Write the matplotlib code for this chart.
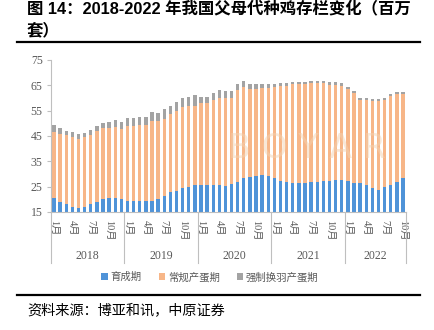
import matplotlib
matplotlib.use("Agg")
import matplotlib.pyplot as plt
import matplotlib.transforms as mtransforms
import numpy as np

plt.rcParams["font.family"] = ["Liberation Serif", "Noto Sans CJK SC"]

years = ["2018", "2019", "2020", "2021", "2022"]
months_per_year = [12, 12, 12, 12, 10]
month_ticks = [1, 4, 7, 10]

# 百万套; the axis is cut at 15, so 育成期 bars start from 0 below the frame
rearing = [
    20.4, 19.1, 18.0, 17.1, 16.7, 17.1, 18.2, 19.1, 20.0, 20.4, 20.7, 20.0,
    19.5, 19.5, 19.3, 19.2, 19.5, 20.3, 21.2, 22.8, 23.4, 24.4, 25.0, 25.8,
    25.7, 25.7, 25.6, 25.6, 25.4, 26.2, 26.8, 28.3, 28.8, 29.4, 29.6, 29.4,
    28.3, 27.4, 27.0, 26.5, 26.3, 26.3, 26.7, 27.0, 27.2, 27.2, 27.6, 27.6,
    27.2, 26.3, 26.3, 25.7, 24.6, 23.7, 24.7, 25.7, 27.0, 28.3,
]
laying = [
    26.2, 26.7, 27.3, 27.4, 27.2, 27.4, 27.1, 27.8, 28.0, 27.9, 27.7, 27.6,
    29.5, 29.5, 29.9, 30.0, 31.4, 30.6, 30.4, 31.0, 31.6, 32.1, 31.9, 31.2,
    32.2, 32.2, 33.5, 34.4, 34.5, 33.7, 36.5, 36.2, 34.9, 34.3, 34.5, 34.6,
    36.0, 37.4, 37.8, 39.0, 39.2, 39.3, 39.2, 38.9, 38.7, 38.1, 37.7, 37.3,
    36.4, 35.7, 32.8, 33.6, 34.1, 35.0, 34.6, 34.9, 34.7, 33.2,
]
molting = [
    2.7, 2.5, 1.8, 2.1, 1.9, 1.6, 2.1, 2.1, 2.3, 2.2, 2.9, 2.8,
    3.0, 3.0, 3.2, 3.2, 3.4, 3.3, 4.0, 3.2, 3.4, 3.6, 3.3, 4.0,
    2.6, 2.6, 3.0, 3.0, 3.0, 3.0, 2.3, 2.2, 1.7, 1.7, 1.5, 1.4,
    1.2, 1.0, 1.0, 1.0, 1.0, 0.9, 0.9, 0.9, 0.9, 0.9, 0.9, 0.9,
    0.9, 0.9, 0.8, 0.8, 0.8, 0.8, 0.8, 0.8, 0.8, 0.8,
]
series_names = ["育成期", "常规产蛋期", "强制换羽产蛋期"]
colors = ["#4F93D8", "#F7B688", "#A3A3A3"]

W, H = 434, 330
fig = plt.figure(figsize=(W / 100, H / 100), dpi=100)
ax = fig.add_axes([51 / W, 1 - 212 / H, 355 / W, 152 / H])

x = np.arange(len(rearing))
bottom = np.zeros(len(x))
handles = []
for vals, name, c in zip([rearing, laying, molting], series_names, colors):
    b = ax.bar(x, vals, 0.55, bottom=bottom, color=c, label=name, zorder=2)
    handles.append(b)
    bottom = bottom + np.array(vals)

ax.set_xlim(-0.5, len(x) - 0.5)
ax.set_ylim(15, 75)
ax.set_yticks(np.arange(15, 76, 10))
ax.tick_params(axis="y", length=3, width=0.8, color="#BFBFBF",
               labelsize=8.5, labelcolor="#595959", pad=3)

# month labels under each year block
tick_pos, tick_lab = [], []
start = 0
for n in months_per_year:
    for m in month_ticks:
        if m <= n:
            tick_pos.append(start + m - 1)
            tick_lab.append(f"{m}月")
    start += n
ax.set_xticks(tick_pos)
ax.set_xticklabels(tick_lab, rotation=270, fontsize=7.5, color="#595959")
ax.tick_params(axis="x", length=0, pad=6)

for side in ["top", "right"]:
    ax.spines[side].set_visible(False)
for side in ["left", "bottom"]:
    ax.spines[side].set_color("#BFBFBF")
    ax.spines[side].set_linewidth(0.8)

# year group separators and labels
trans = mtransforms.blended_transform_factory(ax.transData, ax.transAxes)
edges = np.concatenate([[0], np.cumsum(months_per_year)]) - 0.5
for e in edges:
    ax.plot([e, e], [0, -51 / 152], transform=trans, color="#BFBFBF",
            lw=0.8, clip_on=False)
for i, yr in enumerate(years):
    xc = (edges[i] + edges[i + 1]) / 2
    ax.text(xc, -44 / 152, yr, transform=trans, ha="center", va="center",
            fontsize=8.5, color="#595959")

# faint watermark
ax.text(0.72, 0.42, "B O Y A R", transform=ax.transAxes, ha="center",
        va="center", fontsize=24, color="#F3D2B2", alpha=0.5,
        family="DejaVu Sans", zorder=3)

fig.legend(handles, series_names, loc="center", bbox_to_anchor=(210 / W, 1 - 277 / H),
           ncol=3, frameon=False, handlelength=0.6,
           handleheight=0.6, handletextpad=0.3, columnspacing=1.6,
           prop={"family": ["Noto Sans CJK SC"], "size": 7.5})
for t in fig.legends[0].get_texts():
    t.set_color("#595959")

fig.text(27 / W, 1 - 8 / H, "图 14：2018-2022 年我国父母代种鸡存栏变化（百万",
         ha="left", va="center", fontsize=11.8, fontweight="bold",
         family=["Liberation Sans", "Noto Sans CJK SC"])
fig.text(27 / W, 1 - 30 / H, "套）", ha="left", va="center", fontsize=11.8,
         fontweight="bold", family=["Noto Sans CJK SC"])
fig.add_artist(plt.Line2D([17 / W, 420 / W], [1 - 42 / H, 1 - 42 / H],
                          color="black", lw=1.6))
fig.add_artist(plt.Line2D([17 / W, 420 / W], [1 - 295 / H, 1 - 295 / H],
                          color="black", lw=1.6))
fig.text(27 / W, 1 - 311 / H, "资料来源：博亚和讯，中原证券", ha="left",
         va="center", fontsize=10.2, family=["Noto Sans CJK SC"])

fig.savefig("out.png", dpi=100)
